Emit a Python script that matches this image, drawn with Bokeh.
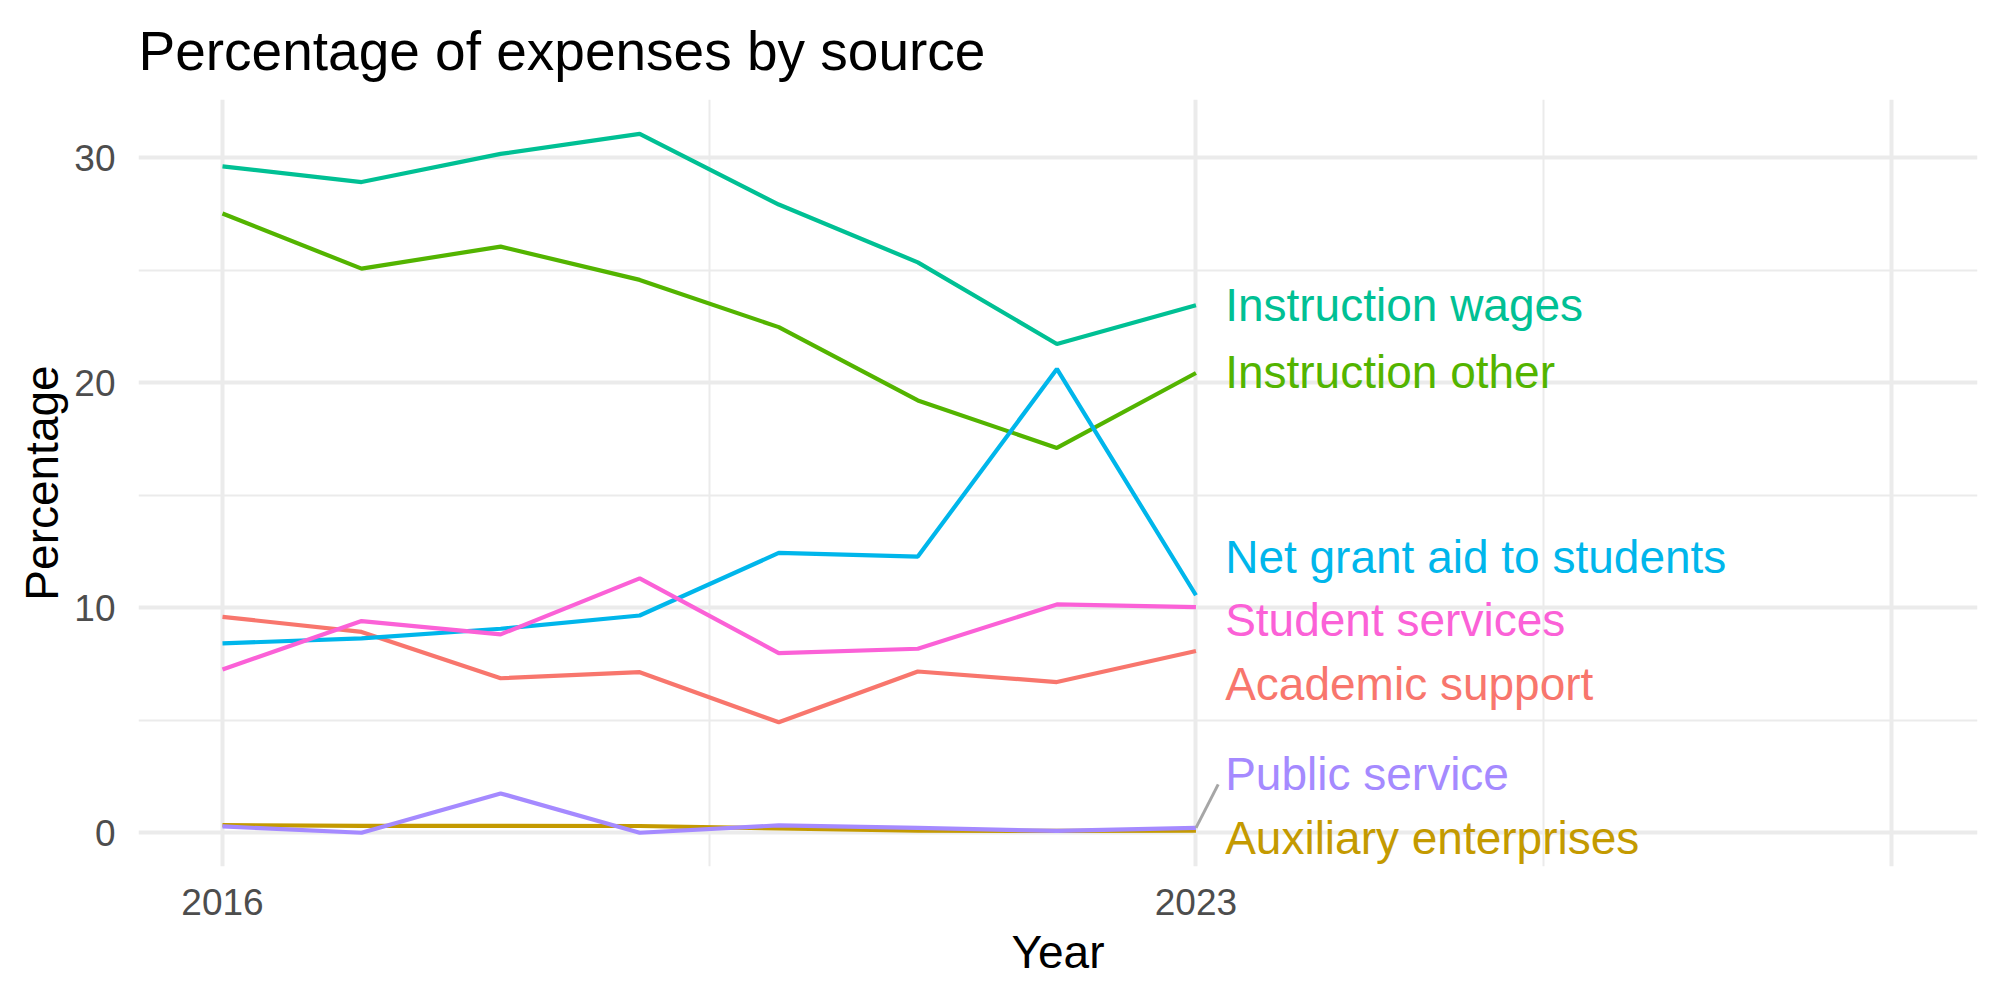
from bokeh.plotting import figure
from bokeh.models import ColumnDataSource, Range1d, FixedTicker
from bokeh.core.properties import value
from bokeh.embed import file_html
from bokeh.resources import INLINE

years = [2016, 2017, 2018, 2019, 2020, 2021, 2022, 2023]

academic_support = [9.6, 8.93, 6.87, 7.14, 4.91, 7.17, 6.70, 8.08]
auxiliary_enterprises = [0.34, 0.31, 0.31, 0.30, 0.19, 0.09, 0.08, 0.09]
instruction_other = [27.53, 25.08, 26.06, 24.58, 22.48, 19.22, 17.11, 20.44]
instruction_wages = [29.63, 28.93, 30.18, 31.07, 27.93, 25.36, 21.73, 23.45]
net_grant_aid = [8.42, 8.64, 9.07, 9.66, 12.44, 12.28, 20.62, 10.56]
public_service = [0.28, 0.0, 1.75, 0.0, 0.33, 0.22, 0.08, 0.22]
student_services = [7.26, 9.41, 8.82, 11.31, 7.99, 8.18, 10.15, 10.03]

series_names = ["Academic support", "Auxiliary enterprises", "Instruction other",
                "Instruction wages", "Net grant aid to students", "Public service",
                "Student services"]
series_values = [academic_support, auxiliary_enterprises, instruction_other,
                 instruction_wages, net_grant_aid, public_service, student_services]
colors = ["#F8766D", "#C49A00", "#53B400", "#00C094", "#00B6EB", "#A58AFF", "#FB61D7"]

# repelled label positions (data units)
label_x = 2023.21
label_y = [6.6, -0.22, 20.48, 23.47, 12.25, 2.6, 9.46]
# repel segment for Public service label end
seg_end = (2023.16, 2.15)

x_major = [2016, 2023, 2028]
x_minor = [2019.5, 2025.5]
y_major = [0, 10, 20, 30]
y_minor = [5, 15, 25]

FONT = "Liberation Sans"

p = figure(width=2000, height=1000,
           x_range=Range1d(2015.396, 2028.62), y_range=Range1d(-1.5, 32.6),
           output_backend="svg", toolbar_location=None,
           min_border_left=138, min_border_right=23,
           min_border_top=98, min_border_bottom=134)

p.background_fill_color = "white"
p.border_fill_color = "white"
p.outline_line_color = None

p.title.text = "Percentage of expenses by source"
p.title.text_font = FONT
p.title.text_font_size = "55px"
p.title.text_font_style = "normal"
p.title.text_color = "black"
p.title.align = "left"
p.title.standoff = 35

p.xaxis.ticker = FixedTicker(ticks=x_major, minor_ticks=x_minor)
p.yaxis.ticker = FixedTicker(ticks=y_major, minor_ticks=y_minor)
p.xaxis.major_label_overrides = {2016: "2016", 2023: "2023", 2028: ""}

for ax in (p.xaxis, p.yaxis):
    ax.axis_line_color = None
    ax.major_tick_line_color = None
    ax.minor_tick_line_color = None
    ax.major_label_text_font = FONT
    ax.major_label_text_font_size = "37px"
    ax.major_label_text_color = "#4D4D4D"
    ax.axis_label_text_font = FONT
    ax.axis_label_text_font_size = "46px"
    ax.axis_label_text_font_style = "normal"
    ax.axis_label_text_color = "black"

p.xaxis.axis_label = "Year"
p.yaxis.axis_label = "Percentage"
p.xaxis.major_label_standoff = 16
p.xaxis.axis_label_standoff = 8
p.yaxis.major_label_standoff = 17
p.yaxis.axis_label_standoff = 3

for g in (p.xgrid, p.ygrid):
    g.grid_line_color = "#EBEBEB"
    g.grid_line_width = 4
    g.minor_grid_line_color = "#EBEBEB"
    g.minor_grid_line_width = 2

for name, vals, col in zip(series_names, series_values, colors):
    src = ColumnDataSource(dict(x=years, y=vals))
    p.line("x", "y", source=src, line_color=col, line_width=4.2)

# repel segment for Public service
p.segment(x0=[years[-1]], y0=[public_service[-1]], x1=[seg_end[0]], y1=[seg_end[1]],
          line_color="#A6A6A6", line_width=3)

lab_src = ColumnDataSource(dict(x=[label_x] * len(series_names), y=label_y,
                                text=series_names, color=colors))
p.text("x", "y", text="text", source=lab_src, text_color="color",
       text_font=value(FONT), text_font_size="46px",
       text_baseline="middle", text_align="left")

open("out.html", "w").write(file_html(p, INLINE))
